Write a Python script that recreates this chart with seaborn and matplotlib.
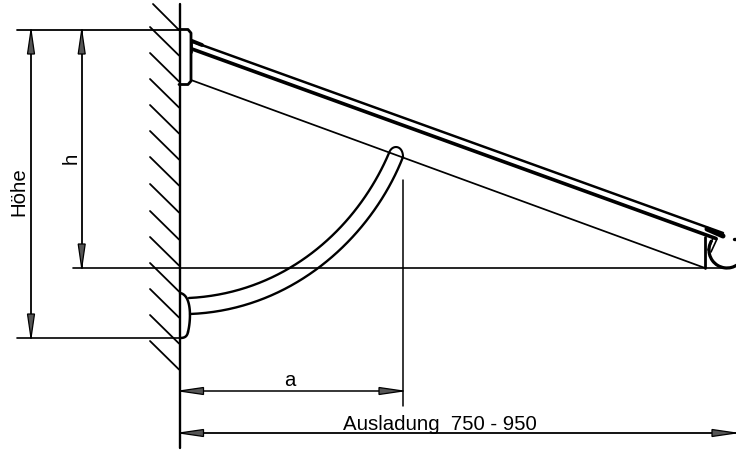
import numpy as np
import pandas as pd
import matplotlib
matplotlib.use("Agg")
import matplotlib.pyplot as plt
from matplotlib.patches import Polygon, Arc
import seaborn as sns

# drawing geometry in reference pixels
hatch_start_y = [27, 53, 79, 105, 131, 157, 184, 211, 237, 263, 289, 315, 341]
wall_x = [179.5, 179.5]
wall_y = [4, 448]
hatch_top_x = [153, 179]
hatch_top_y = [4, 30]

thin_lines = {
    "height_ext_top": ([17, 180], [30, 30], 1.3),
    "height_ext_bottom": ([17, 180], [338, 338], 1.2),
    "baseline": ([73, 726], [268, 268], 1.2),
    "hoehe_dim": ([31, 31], [30, 338], 1.3),
    "h_dim": ([81.7, 81.7], [30, 268], 1.3),
    "a_dim": ([179.5, 403], [391, 391], 1.1),
    "a_ext": ([403, 403], [180, 406], 1.1),
    "aus_dim": ([179.5, 736], [433, 433], 1.3),
    "brace": ([191, 705], [80, 268], 1.25),
    "rail_top": ([192, 723], [41.5, 233], 1.8),
    "rail_low": ([192, 716], [49, 238.5], 2.6),
    "stub": ([192, 202], [41, 45], 2.8),
    "stub_end": ([191, 191], [40, 52], 2.0),
    "rail_end": ([707, 723], [229, 236], 3.6),
    "gutter_post": ([705, 705], [237, 268], 2.0),
    "gutter_clip_a": ([708, 713], [250, 238], 1.2),
    "gutter_clip_b": ([711, 717], [252, 239], 1.2),
    "gutter_dot": ([734, 736], [239, 239], 2.4),
}

# cubic Bezier control points
strut_upper = [(189, 298), (288, 293), (358, 226), (389, 153)]
strut_lower = [(190, 314), (294, 310), (372, 236), (403, 157)]
strut_cap = [(389, 153), (392, 144), (403, 145), (403, 157)]
foot = [(180, 293), (192, 295), (191, 320), (188, 332)]
foot_end = [(188, 332), (187, 337), (184, 338), (180, 338)]
bracket_x = [179, 188, 191, 191, 188, 179]
bracket_y = [29.5, 29.5, 33, 81, 84.5, 84.5]

arrow_tips = [
    (31, 30, "up"), (31, 338, "down"), (81.7, 30, "up"), (81.7, 268, "down"),
    (179.5, 391, "left"), (403, 391, "right"), (179.5, 433, "left"), (736, 433, "right"),
]

sns.set_theme(style="white")
plt.rcParams["font.family"] = ["Liberation Sans", "DejaVu Sans"]

fig, ax = plt.subplots(figsize=(7.36, 4.5), dpi=100)
ax.set_position([0, 0, 1, 1])


def draw(xs, ys, lw=1.0):
    frame = pd.DataFrame({"x": xs, "y": ys})
    sns.lineplot(data=frame, x="x", y="y", sort=False, estimator=None,
                 color="black", lw=lw, ax=ax, legend=False, solid_capstyle="round",
                 solid_joinstyle="round", errorbar=None)


def bez(points, n=40):
    p = np.array(points, dtype=float)
    t = np.linspace(0, 1, n)[:, None]
    c = (1 - t) ** 3 * p[0] + 3 * (1 - t) ** 2 * t * p[1] + 3 * (1 - t) * t ** 2 * p[2] + t ** 3 * p[3]
    return c[:, 0], c[:, 1]


draw(wall_x, wall_y, 1.7)
draw(hatch_top_x, hatch_top_y, 1.3)
for y0 in hatch_start_y:
    draw([150, 179], [y0, y0 + 28.5], 1.3)
for xs, ys, lw in thin_lines.values():
    draw(xs, ys, lw)
draw(bracket_x, bracket_y, 2.0)
for pts, lw in [(strut_upper, 1.7), (strut_lower, 1.7), (strut_cap, 1.5), (foot, 1.8), (foot_end, 1.8)]:
    x, y = bez(pts)
    draw(x, y, lw)

ax.add_patch(Arc((727, 250), 36, 36, theta1=30, theta2=212, angle=0, color="black", lw=2.3))

for x, y, d in arrow_tips:
    L, W = 24, 3.5
    shape = {
        "up": [(x, y), (x - W, y + L), (x + W, y + L)],
        "down": [(x, y), (x - W, y - L), (x + W, y - L)],
        "left": [(x, y), (x + L, y - W), (x + L, y + W)],
        "right": [(x, y), (x - L, y - W), (x - L, y + W)],
    }[d]
    ax.add_patch(Polygon(shape, closed=True, facecolor="#555555", edgecolor="black", lw=0.9, zorder=3))

ax.text(290, 381, "a", fontsize=14.7, ha="center", va="center", color="black")
ax.text(343, 430, "Ausladung  750 - 950", fontsize=14.7, ha="left", va="baseline", color="black")
ax.text(19, 192, "Höhe", fontsize=14.7, rotation=90, ha="center", va="center", color="black")
ax.text(71, 158, "h", fontsize=14.7, rotation=90, ha="center", va="center", color="black")

ax.set_xlim(0, 736)
ax.set_ylim(450, 0)
ax.set_xlabel("")
ax.set_ylabel("")
ax.axis("off")
fig.savefig("out.png", dpi=100)
